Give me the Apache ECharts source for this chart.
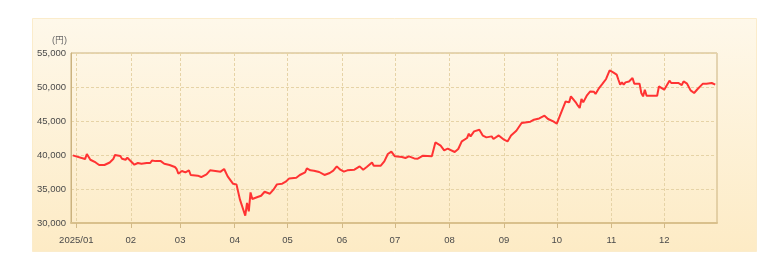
<!DOCTYPE html>
<html>
<head>
<meta charset="utf-8">
<script src="https://cdn.jsdelivr.net/npm/echarts@6/dist/echarts.min.js"></script>
<style>
html,body{margin:0;padding:0;background:#ffffff;}
#chart{width:783px;height:266px;}
</style>
</head>
<body>
<div id="chart"></div>
<script>
const dates = [
'2024-12-30','2025-01-06','2025-01-07','2025-01-09','2025-01-12','2025-01-14','2025-01-17','2025-01-20','2025-01-22','2025-01-23',
'2025-01-26','2025-01-27','2025-01-29','2025-01-30','2025-01-31','2025-02-03','2025-02-05','2025-02-06','2025-02-07','2025-02-10',
'2025-02-12','2025-02-13','2025-02-15','2025-02-18','2025-02-20','2025-02-23','2025-02-26','2025-02-27','2025-02-28','2025-03-02',
'2025-03-04','2025-03-06','2025-03-07','2025-03-08','2025-03-11','2025-03-13','2025-03-16','2025-03-18','2025-03-21','2025-03-24',
'2025-03-26','2025-03-28','2025-03-31','2025-04-02','2025-04-04','2025-04-07','2025-04-08','2025-04-09','2025-04-10','2025-04-11',
'2025-04-14','2025-04-16','2025-04-17','2025-04-18','2025-04-21','2025-04-22','2025-04-23','2025-04-25','2025-04-28','2025-04-30',
'2025-05-02','2025-05-06','2025-05-08','2025-05-11','2025-05-12','2025-05-14','2025-05-16','2025-05-19','2025-05-22','2025-05-25',
'2025-05-27','2025-05-29','2025-05-31','2025-06-02','2025-06-04','2025-06-05','2025-06-08','2025-06-11','2025-06-13','2025-06-15',
'2025-06-18','2025-06-19','2025-06-23','2025-06-25','2025-06-27','2025-06-29','2025-07-01','2025-07-05','2025-07-07','2025-07-09',
'2025-07-12','2025-07-14','2025-07-17','2025-07-22','2025-07-24','2025-07-27','2025-07-29','2025-07-30','2025-07-31','2025-08-04',
'2025-08-06','2025-08-08','2025-08-11','2025-08-12','2025-08-13','2025-08-15','2025-08-18','2025-08-20','2025-08-22','2025-08-25',
'2025-08-26','2025-08-29','2025-09-01','2025-09-03','2025-09-05','2025-09-08','2025-09-09','2025-09-11','2025-09-16','2025-09-18',
'2025-09-19','2025-09-21','2025-09-24','2025-09-26','2025-09-29','2025-10-01','2025-10-03','2025-10-06','2025-10-08','2025-10-09',
'2025-10-12','2025-10-13','2025-10-14','2025-10-15','2025-10-16','2025-10-18','2025-10-20','2025-10-22','2025-10-23','2025-10-25',
'2025-10-27','2025-10-28','2025-10-29','2025-10-31','2025-11-02','2025-11-04','2025-11-05','2025-11-06','2025-11-07','2025-11-08',
'2025-11-09','2025-11-11','2025-11-12','2025-11-13','2025-11-14','2025-11-17','2025-11-18','2025-11-19','2025-11-20','2025-11-21',
'2025-11-27','2025-11-28','2025-11-29','2025-12-01','2025-12-02','2025-12-04','2025-12-05','2025-12-09','2025-12-11','2025-12-12',
'2025-12-14','2025-12-16','2025-12-17','2025-12-18','2025-12-20','2025-12-23','2025-12-25','2025-12-26','2025-12-28','2025-12-30'
];
const prices = [
39940,39400,40150,39300,38900,38530,38530,38900,39400,40000,
39850,39450,39300,39600,39500,38570,38820,38900,38720,38820,
38820,39200,39100,39100,38720,38530,38240,37940,37250,37650,
37440,37740,37060,36990,36960,36760,37150,37740,37650,37550,
37940,36850,35780,35680,33430,31070,32940,31710,34500,33530,
33820,34010,34210,34600,34310,34210,34900,35680,35780,36070,
36560,36660,37060,37440,38030,37740,37690,37500,37060,37350,
37690,38330,37840,37550,37740,37600,37840,38330,37840,38240,
38910,38430,38430,39060,40150,40490,39800,39710,39560,39800,
39500,39460,39900,39800,41850,41370,40690,40540,40930,40440,
40880,42000,42500,43130,42740,43470,43720,42840,42590,42740,
42350,42880,42250,42000,42880,43570,43470,44710,44900,45190,
45000,45380,45780,45290,44940,44600,45930,47880,47740,48620,
47650,47250,46910,48240,47740,48720,49350,49310,48970,49850,
50490,50340,51180,52440,52150,51810,51070,50340,50680,50340,
50680,50820,51070,51320,50490,50490,49120,48620,49600,48720,
48720,50090,50340,49600,49350,50930,50590,50590,50290,50820,
50490,49500,49350,49120,49710,50490,50490,50680,50590,50340
];
const monthTicks = ['2025-01-01','2025-02-01','2025-03-01','2025-04-01','2025-05-01','2025-06-01',
  '2025-07-01','2025-08-01','2025-09-01','2025-10-01','2025-11-01','2025-12-01'];
const xStart = '2024-12-29', xEnd = '2025-12-31';
const yMin = 30000, yMax = 55000, yStep = 5000;
const yUnit = '(円)';

function toTs(s){ const p = s.split('-').map(Number); return Date.UTC(p[0], p[1]-1, p[2]); }
const tickTs = monthTicks.map(toTs);

const chart = echarts.init(document.getElementById('chart'), null, {renderer:'canvas'});
const FONT = 'Liberation Sans, Arial, sans-serif';
chart.setOption({
  animation:false,
  graphic:[{
    type:'rect', z:-100, silent:true,
    shape:{x:32.5,y:18.5,width:724,height:233},
    style:{
      fill:new echarts.graphic.LinearGradient(0,0,0,1,[{offset:0,color:'#fef8ea'},{offset:1,color:'#fdebc5'}]),
      stroke:'#fbeccb', lineWidth:1
    }
  }],
  grid:{left:71,top:53,right:66,bottom:43,show:true,borderColor:'#cbb27e',borderWidth:1,backgroundColor:'transparent'},
  xAxis:{
    type:'value',
    min:toTs(xStart), max:toTs(xEnd),
    axisLine:{show:true,lineStyle:{color:'#d9c08c',width:2}},
    axisTick:{show:true,customValues:tickTs,length:5,lineStyle:{color:'#d2b987'}},
    axisLabel:{
      customValues:tickTs, color:'#4a4a4a', fontSize:9.5, fontFamily:FONT, margin:12,
      formatter:function(v){ const d=new Date(v); const m=d.getUTCMonth()+1; const mm=(m<10?'0':'')+m; return m===1? d.getUTCFullYear()+'/'+mm : mm; }
    },
    splitLine:{show:true,lineStyle:{color:'#e6d3a6',type:[3,2],width:1}}
  },
  yAxis:{
    type:'value', min:yMin, max:yMax, interval:yStep,
    name:yUnit, nameLocation:'end', nameGap:8,
    nameTextStyle:{color:'#666',fontSize:9,fontFamily:FONT,align:'right',padding:[0,4,0,0]},
    axisLine:{show:true,lineStyle:{color:'#cbb27e',width:1}},
    axisTick:{show:false},
    axisLabel:{color:'#4a4a4a',fontSize:9.5,fontFamily:FONT,margin:5},
    splitLine:{show:true,lineStyle:{color:'#e6d3a6',type:[3,2],width:1}}
  },
  series:[{
    type:'line', showSymbol:false, symbol:'none',
    data:dates.map((d,i)=>[toTs(d),prices[i]]),
    lineStyle:{color:'#ff3333',width:2},
    itemStyle:{color:'#ff3333'}
  }]
});
</script>
</body>
</html>
